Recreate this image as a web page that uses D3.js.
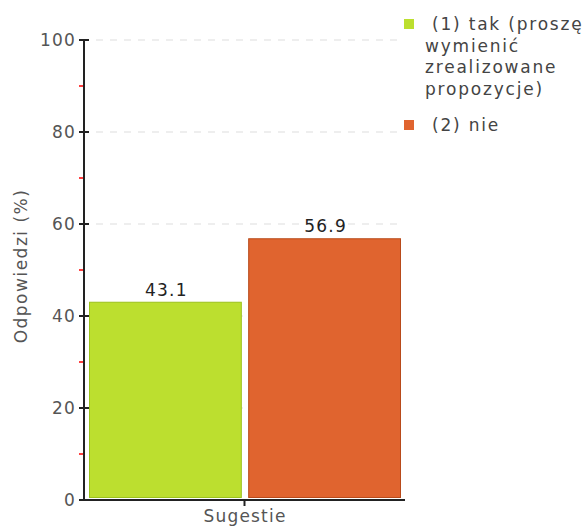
<!DOCTYPE html>
<html><head><meta charset="utf-8">
<script src="https://cdn.jsdelivr.net/npm/d3@7"></script>
<style>
body{margin:0;background:#fff;}
svg text{font-family:"DejaVu Sans",sans-serif;}
</style></head>
<body>
<svg id="chart" width="587" height="527"></svg>
<script>
const categories = ["Sugestie"];
const seriesNames = ["(1) tak (proszę wymienić zrealizowane propozycje)", "(2) nie"];
const legendLines = [["(1) tak (proszę", "wymienić", "zrealizowane", "propozycje)"], ["(2) nie"]];
const seriesValues = [43.1, 56.9];
const seriesColors = ["#bcdf2f", "#e0642f"];
const seriesStroke = ["#9cc21c", "#b84a1a"];
const yTicks = [0, 20, 40, 60, 80, 100];
const yMinorTicks = [10, 30, 50, 70, 90];
const yTitle = "Odpowiedzi (%)";

const svg = d3.select("#chart");
const pLeft = 84, pRight = 405, pTop = 40, pBottom = 500;
const FS = 17, LS = 1.2;

const y = d3.scaleLinear().domain([0, 100]).range([pBottom, pTop]);
const x = d3.scaleBand().domain(categories).range([pLeft, pRight]);
const xs = d3.scaleBand().domain(seriesNames).range([pLeft + 5, pRight - 4]).paddingInner(0.04);

// gridlines
svg.append("g").selectAll("line").data(yTicks.filter(d => d > 0)).join("line")
  .attr("x1", pLeft + 12).attr("x2", pRight - 6)
  .attr("y1", d => y(d)).attr("y2", d => y(d))
  .attr("stroke", "#dddddd").attr("stroke-width", 1).attr("stroke-dasharray", "7,7");

// bars
svg.append("g").selectAll("rect").data(seriesValues).join("rect")
  .attr("x", (d, i) => xs(seriesNames[i]) + 0.5)
  .attr("width", xs.bandwidth() - 1)
  .attr("y", d => y(d) + 0.5)
  .attr("height", d => y(0) - 3 - y(d))
  .attr("fill", (d, i) => seriesColors[i])
  .attr("stroke", (d, i) => seriesStroke[i]).attr("stroke-width", 1);

// value labels
svg.append("g").selectAll("text").data(seriesValues).join("text")
  .attr("x", (d, i) => xs(seriesNames[i]) + xs.bandwidth() / 2 + 1)
  .attr("y", d => y(d) - 6)
  .attr("text-anchor", "middle")
  .attr("font-size", FS).attr("letter-spacing", LS).attr("fill", "#222")
  .text(d => d.toFixed(1));

// y axis
const yAxis = svg.append("g").attr("transform", `translate(${pLeft},0)`);
yAxis.append("line").attr("x1", 0).attr("x2", 0).attr("y1", pTop).attr("y2", pBottom + 1)
  .attr("stroke", "#222").attr("stroke-width", 2);
yAxis.selectAll(".maj").data(yTicks).join("line").attr("class", "maj")
  .attr("x1", -5).attr("x2", 5).attr("y1", d => y(d)).attr("y2", d => y(d))
  .attr("stroke", "#222").attr("stroke-width", 2);
yAxis.selectAll(".min").data(yMinorTicks).join("line").attr("class", "min")
  .attr("x1", -5).attr("x2", -1).attr("y1", d => y(d)).attr("y2", d => y(d))
  .attr("stroke", "#ff0000").attr("stroke-width", 1.5);
yAxis.selectAll("text").data(yTicks).join("text")
  .attr("x", -8).attr("y", d => y(d) + 6)
  .attr("text-anchor", "end").attr("font-size", FS).attr("letter-spacing", LS).attr("fill", "#555")
  .text(d => d);

// x axis
const xAxis = svg.append("g").attr("transform", `translate(0,${pBottom})`);
xAxis.append("line").attr("x1", pLeft).attr("x2", pRight).attr("y1", 0).attr("y2", 0)
  .attr("stroke", "#222").attr("stroke-width", 2);
xAxis.selectAll(".tk").data(categories).join("line").attr("class", "tk")
  .attr("x1", d => x(d) + x.bandwidth() / 2).attr("x2", d => x(d) + x.bandwidth() / 2)
  .attr("y1", 0).attr("y2", 6).attr("stroke", "#222").attr("stroke-width", 2);
xAxis.selectAll("text").data(categories).join("text")
  .attr("x", d => x(d) + x.bandwidth() / 2 + 0.5).attr("y", 22)
  .attr("text-anchor", "middle").attr("font-size", FS).attr("letter-spacing", LS).attr("fill", "#555")
  .text(d => d);

// y title
svg.append("text")
  .attr("transform", `translate(27,266) rotate(-90)`)
  .attr("text-anchor", "middle").attr("font-size", FS).attr("letter-spacing", 1.5).attr("fill", "#555")
  .text(yTitle);

// legend
const legendTops = [19, 120];
const lg = svg.append("g");
legendLines.forEach((lines, i) => {
  lg.append("rect").attr("x", 404).attr("y", legendTops[i]).attr("width", 10).attr("height", 10)
    .attr("fill", seriesColors[i]);
  lines.forEach((ln, j) => {
    lg.append("text")
      .attr("x", j === 0 ? 432 : 425)
      .attr("y", legendTops[i] + 11 + j * 21.5)
      .attr("font-size", FS).attr("letter-spacing", 1.8).attr("fill", "#444")
      .text(ln);
  });
});
</script>
</body></html>
